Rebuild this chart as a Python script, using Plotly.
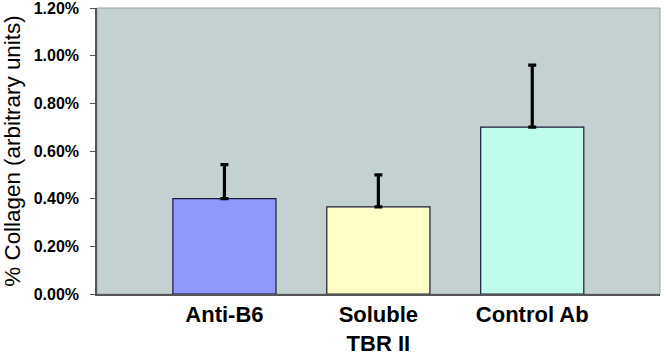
import plotly.graph_objects as go

categories = ["Anti-B6", "Soluble<br>TBR II", "Control Ab"]
values = [0.0040, 0.00366, 0.0070]
errors = [0.00143, 0.00134, 0.0026]
colors = ["#9198FB", "#FFFFC8", "#BFFCEC"]
y_ticks = [0, 0.002, 0.004, 0.006, 0.008, 0.010, 0.012]

x_pos = list(range(len(categories)))

fig = go.Figure()
fig.add_trace(go.Bar(
    x=x_pos, y=values, width=0.67,
    marker=dict(color=colors, line=dict(color="#1a1a3a", width=1.2)),
    error_y=dict(type="data", symmetric=False, array=errors,
                 arrayminus=[0] * len(errors), color="black",
                 thickness=3.2, width=4),
))

font = "Liberation Sans, Arial, sans-serif"
fig.update_layout(
    width=667, height=355,
    margin=dict(l=97, r=7, t=8, b=61),
    paper_bgcolor="white",
    plot_bgcolor="#C4D1D1",
    showlegend=False,
    font=dict(family=font, color="black"),
    xaxis=dict(
        range=[-0.828, 2.83],
        tickvals=x_pos, ticktext=["<b>%s</b>" % c.replace("<br>", "</b><br><b>") for c in categories],
        tickfont=dict(size=22, family=font),
        showgrid=False, zeroline=False,
        showline=True, linecolor="#555555", linewidth=1.5,
        ticks="", mirror=False, automargin=False,
        ticklabeloverflow="allow",
    ),
    yaxis=dict(
        range=[0, 0.012001],
        tickvals=y_ticks,
        ticktext=["<b>%.2f%%</b>" % (v * 100) for v in y_ticks],
        tickfont=dict(size=16, family=font),
        showgrid=False, zeroline=False,
        showline=True, linecolor="#555555", linewidth=1.5,
        ticks="outside", ticklen=5, tickcolor="#555555",
        ticklabelstandoff=8, ticklabeloverflow="allow",
        automargin=False,
        title=dict(text="% Collagen (arbitrary units)", font=dict(size=22.4, family=font), standoff=12),
    ),
)
fig.add_shape(type="rect", xref="paper", yref="paper", x0=0, y0=0, x1=1, y1=1,
              line=dict(color="#9aa5a5", width=1), layer="below")

fig.write_html("out.html", config={"displayModeBar": False},
               post_script="document.body.style.margin='0';document.body.style.overflow='hidden';")
